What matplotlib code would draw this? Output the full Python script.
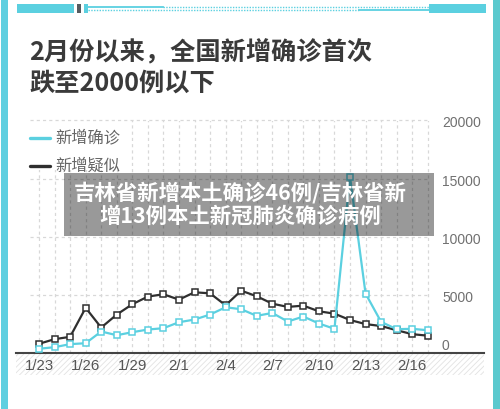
import matplotlib
matplotlib.use("Agg")
import matplotlib.pyplot as plt
from matplotlib.lines import Line2D
from matplotlib.patches import Rectangle

W, H = 500, 409
CJK = ['Noto Sans CJK SC', 'DejaVu Sans']
LATIN = ['Liberation Sans', 'DejaVu Sans']
TEAL = '#5bd0e0'
DARK = '#2f2f2f'

# values
days = ['1/23', '1/24', '1/25', '1/26', '1/27', '1/28', '1/29', '1/30', '1/31',
        '2/1', '2/2', '2/3', '2/4', '2/5', '2/6', '2/7', '2/8', '2/9', '2/10',
        '2/11', '2/12', '2/13', '2/14', '2/15', '2/16', '2/17']
confirmed = [320, 460, 720, 800, 1810, 1490, 1750, 1980, 2095, 2610, 2840, 3270, 3900,
             3730, 3160, 3410, 2670, 3100, 2500, 2040, 15150, 5080, 2640, 2010, 2040, 1920]
suspected = [750, 1150, 1350, 3850, 2150, 3270, 4160, 4820, 5020, 4560, 5190, 5100, 4070,
             5330, 4850, 4210, 3930, 4040, 3550, 3350, 2800, 2450, 2280, 1920, 1580, 1450]
y_ticks = [0, 5000, 10000, 15000, 20000]
y_label_shift = [-7, 3, 3, 3, 3]  # px, labels do not sit exactly on the grid lines


def fx(px):
    return px / W


def fy(py):
    return 1 - py / H


def box(x0, y0, x1, y1, **kw):
    # rectangle given in picture pixels, y going down
    kw.setdefault('linewidth', 0)
    fig.add_artist(Rectangle((fx(x0), fy(y1)), (x1 - x0) / W, (y1 - y0) / H,
                             transform=fig.transFigure, **kw))


fig = plt.figure(figsize=(W / 100, H / 100), dpi=100, facecolor='white')

# frame at the sides
box(1, 0, 8, H, facecolor='#5fcfe0', zorder=0)
box(493, 0, 500, H, facecolor='#5bc9ce', zorder=0)

# strip along the top
box(17, 4, 74, 13, facecolor=TEAL)
box(84, 4, 88, 13, facecolor=TEAL)
box(429, 4, 486, 13, facecolor=TEAL)
box(77, 4, 81, 13, facecolor='#555b60')
fig.add_artist(Line2D([fx(88), fx(163)], [fy(6.5)] * 2, color=TEAL, lw=1.3))
fig.add_artist(Line2D([fx(163), fx(429)], [fy(6.5)] * 2, color=TEAL, lw=1, ls=(0, (1, 1))))
fig.add_artist(Line2D([fx(88), fx(359)], [fy(10)] * 2, color=TEAL, lw=1, ls=(0, (1, 1))))
fig.add_artist(Line2D([fx(359), fx(429)], [fy(10)] * 2, color=TEAL, lw=1.3))

# hatched strip behind the date labels
plt.rcParams['hatch.color'] = '#e2e2e2'
plt.rcParams['hatch.linewidth'] = 0.6
box(16, 353, 484, 375, facecolor='white', hatch='//////', zorder=1)

# axes run from x=16 to x=484 so the base line spans the same width
ax = fig.add_axes([fx(16), fy(352.5), (484 - 16) / W, (352.5 - 120.5) / H], zorder=2)
ax.patch.set_alpha(0)
x_step = 15.55
ax.set_xlim((16 - 39) / x_step, (484 - 39) / x_step)
ax.set_ylim(0, 20000)
x = list(range(len(days)))

ax.vlines(x, 0, 20000, color='#d8d8d8', lw=0.9, ls=(0, (2.5, 2.5)), zorder=1)
ax.hlines(y_ticks[1:], (30 - 39) / x_step, (430 - 39) / x_step,
          color='#d8d8d8', lw=0.9, ls=(0, (2.5, 2.5)), zorder=1.6, clip_on=False)

# white block under the legend hides the grid there
ax.add_patch(Rectangle((0, 0.785), 0.235, 0.215, transform=ax.transAxes,
                       facecolor='white', linewidth=0, zorder=1.5))

ax.plot(x, suspected, color=DARK, lw=1.6, marker='s', ms=4.2, mfc='white',
        mec=DARK, mew=1.1, zorder=3)
ax.plot(x, confirmed, color=TEAL, lw=1.6, marker='s', ms=4.2, mfc='white',
        mec=TEAL, mew=1.1, zorder=4)

for side in ['top', 'left', 'right']:
    ax.spines[side].set_visible(False)
ax.spines['bottom'].set_color('#444444')
ax.spines['bottom'].set_linewidth(1.5)

ax.set_xticks(x[::3])
ax.set_xticklabels(days[::3], family=LATIN, fontsize=10.8, color='#555555')
ax.tick_params(axis='x', length=0, pad=4.5)
ax.set_yticks([])

for v, shift in zip(y_ticks, y_label_shift):
    py = 352.5 - v / 20000 * (352.5 - 120.5) + shift
    fig.text(fx(442), fy(py), str(v), family=LATIN, fontsize=10, color='#707070',
             ha='left', va='center', zorder=5)

# title
fig.text(fx(29), fy(53), '2月份以来，全国新增确诊首次', family=CJK, fontsize=18.2,
         weight='bold', color='#3a3a3a', ha='left', va='center')
fig.text(fx(29), fy(83), '跌至2000例以下', family=CJK, fontsize=18.2,
         weight='bold', color='#3a3a3a', ha='left', va='center')

# legend
for label, col, py in [('新增确诊', TEAL, 137.5), ('新增疑似', DARK, 166)]:
    fig.add_artist(Line2D([fx(30), fx(50)], [fy(py)] * 2, color=col, lw=2.4,
                          solid_capstyle='round', zorder=5))
    fig.text(fx(55), fy(py), label, family=CJK, fontsize=11.7, color='#666666',
             ha='left', va='center', zorder=5)

# grey banner laid over the chart
box(64, 173, 434, 236, facecolor='black', alpha=0.4, zorder=10)
fig.text(fx(240), fy(193), '吉林省新增本土确诊46例/吉林省新', family=CJK, fontsize=15.4,
         weight='bold', color='white', ha='center', va='center', zorder=11)
fig.text(fx(240), fy(216), '增13例本土新冠肺炎确诊病例', family=CJK, fontsize=15.4,
         weight='bold', color='white', ha='center', va='center', zorder=11)

fig.savefig('out.png', dpi=100)
